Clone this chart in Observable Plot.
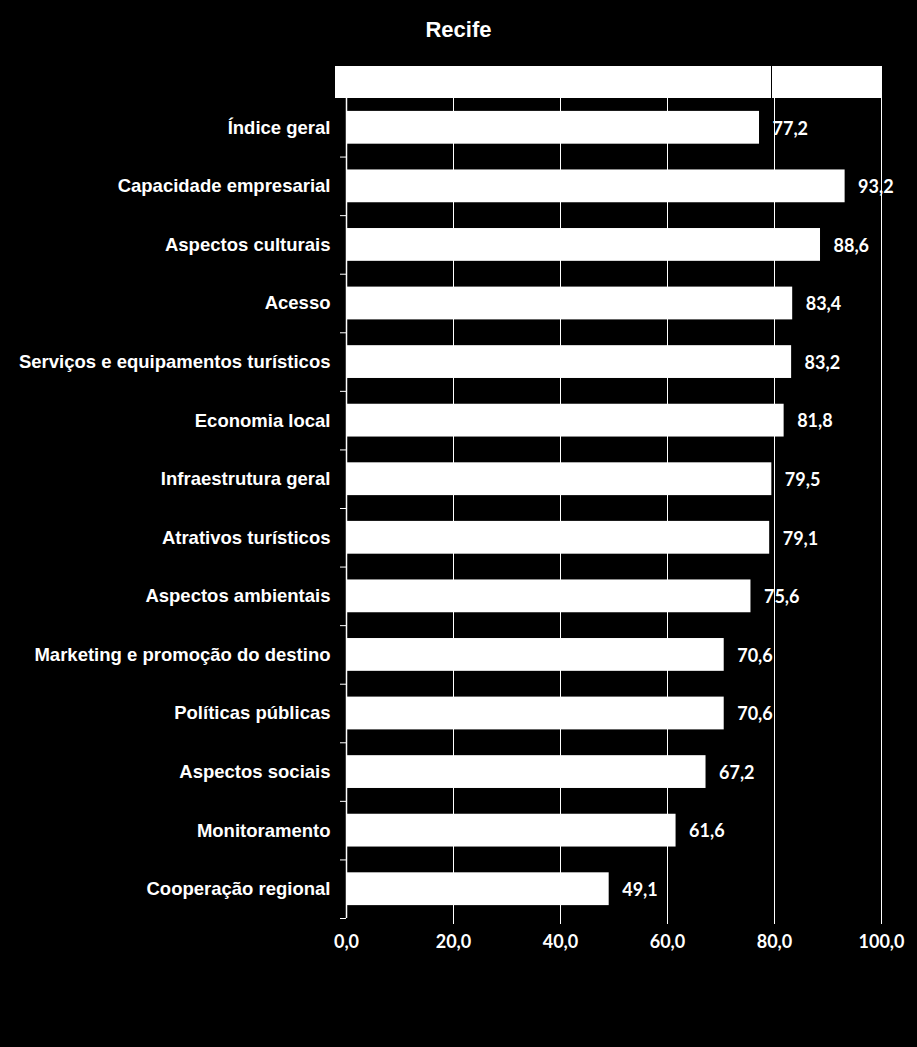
<!DOCTYPE html>
<html>
<head>
<meta charset="utf-8">
<script src="https://cdn.jsdelivr.net/npm/d3@7"></script>
<script src="https://cdn.jsdelivr.net/npm/@observablehq/plot@0.6"></script>
<style>
  html, body { margin: 0; padding: 0; background: #000; }
  #wrap { position: relative; width: 917px; height: 1047px; background: #000; overflow: hidden; }
  #title { position: absolute; left: 0; top: 17px; width: 917px; text-align: center; color: #fff;
           font: bold 22px "Liberation Sans", Arial, sans-serif; z-index: 2; }
  #legendbox { position: absolute; left: 335px; top: 66px; width: 547px; height: 32px; background: #fff; z-index: 2; }
  #legendbox .ln { position: absolute; left: 436px; top: 0; width: 1px; height: 33px; background: #000; }
  #chart { position: absolute; left: 0; top: 0; }
</style>
</head>
<body>
<div id="wrap">
  <div id="title">Recife</div>
  <div id="legendbox"><div class="ln"></div></div>
  <div id="chart"></div>
</div>
<script>
const categories = [
  "Índice geral",
  "Capacidade empresarial",
  "Aspectos culturais",
  "Acesso",
  "Serviços e equipamentos turísticos",
  "Economia local",
  "Infraestrutura geral",
  "Atrativos turísticos",
  "Aspectos ambientais",
  "Marketing e promoção do destino",
  "Políticas públicas",
  "Aspectos sociais",
  "Monitoramento",
  "Cooperação regional"
];
const values = [77.2, 93.2, 88.6, 83.4, 83.2, 81.8, 79.5, 79.1, 75.6, 70.6, 70.6, 67.2, 61.6, 49.1];
const xTicks = [0, 20, 40, 60, 80, 100];
const gridTicks = [20, 40, 60, 80, 100];

const data = categories.map((c, i) => ({category: c, value: values[i]}));
const fmt = d => d.toFixed(1).replace(".", ",");

const W = 917, H = 1047, mT = 98, mB = 129, mL = 346, mR = 36;
const step = (H - mT - mB) / categories.length;

const chart = Plot.plot({
  width: W,
  height: H,
  marginTop: mT,
  marginBottom: mB,
  marginLeft: mL,
  marginRight: mR,
  style: {background: "#000", color: "#fff", overflow: "visible"},
  x: {domain: [0, 100]},
  y: {domain: categories, paddingInner: 0.44, paddingOuter: 0.22, round: false},
  marks: [
    Plot.ruleX(gridTicks, {stroke: "#fff", strokeWidth: 1, insetBottom: -6}),
    Plot.barX(data, {x: "value", y: "category", fill: "#fff"}),
    Plot.ruleX([0], {stroke: "#fff", strokeWidth: 1.5}),
    Plot.text(data, {x: "value", y: "category", text: d => fmt(d.value), textAnchor: "start", dx: 13, dy: 1,
      fill: "#fff", fontSize: 18, fontWeight: "bold", fontFamily: "Lato, 'Open Sans', sans-serif"}),
    Plot.axisY({tickSize: 0, tickPadding: 16, fontSize: 18.5, fontWeight: "bold",
      fontFamily: "'Liberation Sans', Arial, sans-serif", label: null, fill: "#fff"}),
    Plot.axisY({tickSize: 6, tickFormat: () => "", dy: step / 2, label: null, stroke: "#fff"}),
    Plot.axisX({ticks: xTicks, tickSize: 0, tickPadding: 17, tickFormat: fmt, fontSize: 18, fontWeight: "bold",
      fontFamily: "Lato, 'Open Sans', sans-serif", label: null, fill: "#fff"})
  ]
});
document.getElementById("chart").appendChild(chart);
</script>
</body>
</html>
